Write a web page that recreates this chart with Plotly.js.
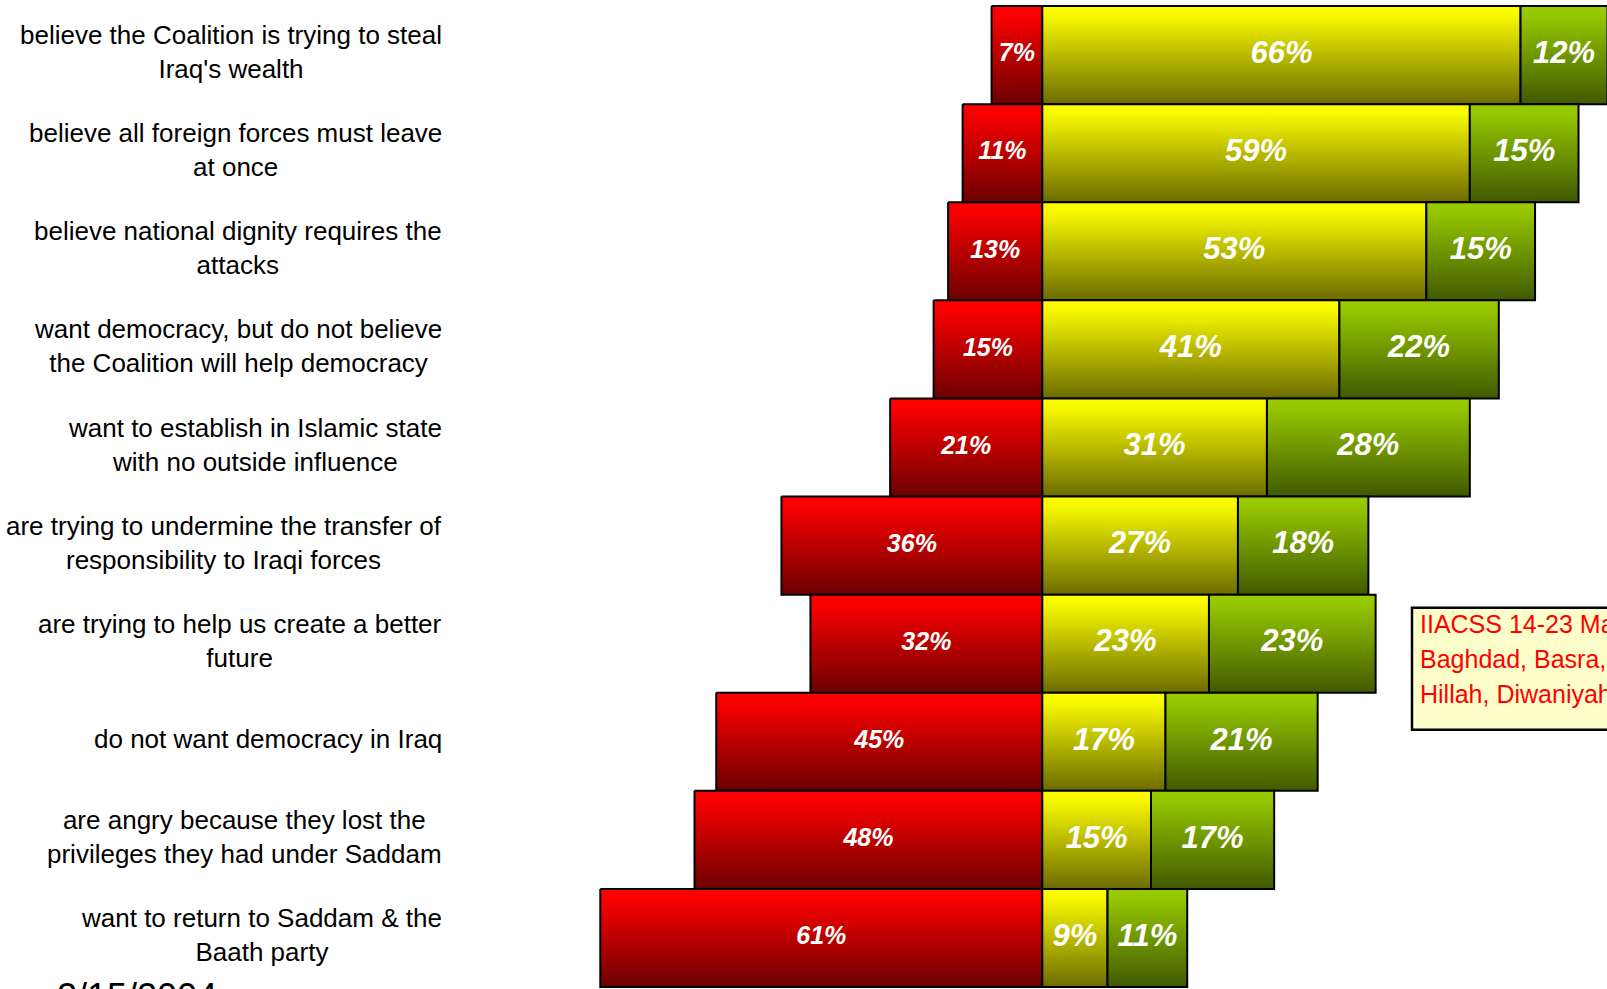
<!DOCTYPE html>
<html>
<head>
<meta charset="utf-8">
<script src="https://cdn.plot.ly/plotly-3.0.1.min.js"></script>
<style>html,body{margin:0;padding:0;overflow:hidden;background:#fff}</style>
</head>
<body>
<div id="chart" style="width:1607px;height:989px"></div>
<script>
// ---- data ----
const categories = [
  "believe the Coalition is trying to steal<br>Iraq's wealth",
  "believe all foreign forces must leave<br>at once",
  "believe national dignity requires the<br>attacks",
  "want democracy, but do not believe<br>the Coalition will help democracy",
  "want to establish in Islamic state<br>with no outside influence",
  "are trying to undermine the transfer of<br>responsibility to Iraqi forces",
  "are trying to help us create a better<br>future",
  "do not want democracy in Iraq",
  "are angry because they lost the<br>privileges they had under Saddam",
  "want to return to Saddam & the<br>Baath party"
];
const redValues    = [7, 11, 13, 15, 21, 36, 32, 45, 48, 61];
const yellowValues = [66, 59, 53, 41, 31, 27, 23, 17, 15, 9];
const greenValues  = [12, 15, 15, 22, 28, 18, 23, 21, 17, 11];
const boxLines = ["IIACSS 14-23 May 2004", "Baghdad, Basra, Mosul, Baqubah,", "Hillah, Diwaniyah"];
const dateText = "2/15/2004";

// ---- styles ----
const FONT = "Liberation Sans, Arial, sans-serif";
const gradRed    = [[0,'#FF0000'],[0.1,'#FA0000'],[1,'#6C0000']];
const gradYellow = [[0,'#FFFF00'],[0.1,'#F8F800'],[1,'#6C6C00']];
const gradGreen  = [[0,'#99CC00'],[0.1,'#95C600'],[1,'#405A00']];

const traces = [];
function segment(x0, x1, i, scale) {
  traces.push({
    type: 'scatter', mode: 'lines',
    x: [x0, x1, x1, x0, x0],
    y: [i - 0.5, i - 0.5, i + 0.5, i + 0.5, i - 0.5],
    fill: 'toself',
    fillgradient: {type: 'vertical', start: i - 0.5, stop: i + 0.5, colorscale: scale},
    line: {color: '#000', width: 2},
    hoverinfo: 'skip', showlegend: false
  });
}
const idx = categories.map((_, i) => i);
idx.forEach(i => {
  segment(-redValues[i], 0, i, gradRed);
  segment(0, yellowValues[i], i, gradYellow);
  segment(yellowValues[i], yellowValues[i] + greenValues[i], i, gradGreen);
});
function labels(xs, vals, size) {
  traces.push({
    type: 'scatter', mode: 'text', x: xs, y: idx,
    text: vals.map(v => v + '%'), textposition: 'middle center', cliponaxis: false,
    textfont: {family: FONT, size: size, color: '#FFFFFF', weight: 'bold', style: 'italic'},
    hoverinfo: 'skip', showlegend: false
  });
}
labels(redValues.map(v => -v / 2), redValues, 25);
labels(yellowValues.map(v => v / 2), yellowValues, 31);
labels(yellowValues.map((v, i) => v + greenValues[i] / 2), greenValues, 31);

// ---- layout ----
const W = 1607, H = 989, L = 450;
const pw = W - L;
const annotations = categories.map((c, i) => ({
  xref: 'paper', yref: 'y', x: (443 - L) / pw, y: i, yshift: 3,
  xanchor: 'right', yanchor: 'middle', align: 'center',
  text: c, showarrow: false, borderpad: 0,
  font: {family: FONT, size: 26, color: '#000'}
}));
const boxY = [624, 659, 694];
boxLines.forEach((t, k) => annotations.push({
  xref: 'paper', yref: 'paper', x: (1419 - L) / pw, y: 1 - boxY[k] / H,
  xanchor: 'left', yanchor: 'middle', text: t, showarrow: false, borderpad: 0,
  font: {family: FONT, size: 25, color: '#FF0000'}
}));
annotations.push({
  xref: 'paper', yref: 'paper', x: (56 - L) / pw, y: 1 - 975 / H,
  xanchor: 'left', yanchor: 'top', text: dateText, showarrow: false, borderpad: 0,
  font: {family: FONT, size: 36, color: '#000'}
});

const layout = {
  width: W, height: H,
  margin: {l: L, r: 0, t: 0, b: 0, pad: 0},
  paper_bgcolor: '#FFFFFF', plot_bgcolor: '#FFFFFF',
  showlegend: false,
  xaxis: {range: [-81.74, 77.93], visible: false, fixedrange: true},
  yaxis: {range: [9.5204, -0.5622], visible: false, fixedrange: true},
  annotations: annotations,
  shapes: [{
    type: 'rect', xref: 'paper', yref: 'paper',
    x0: (1412 - L) / pw, x1: 1.2, y0: 1 - 729.7 / H, y1: 1 - 607.7 / H,
    fillcolor: '#FFFFCC', line: {color: '#000', width: 2.5}, layer: 'below'
  }]
};
Plotly.newPlot('chart', traces, layout, {displayModeBar: false, staticPlot: true});
</script>
</body>
</html>
